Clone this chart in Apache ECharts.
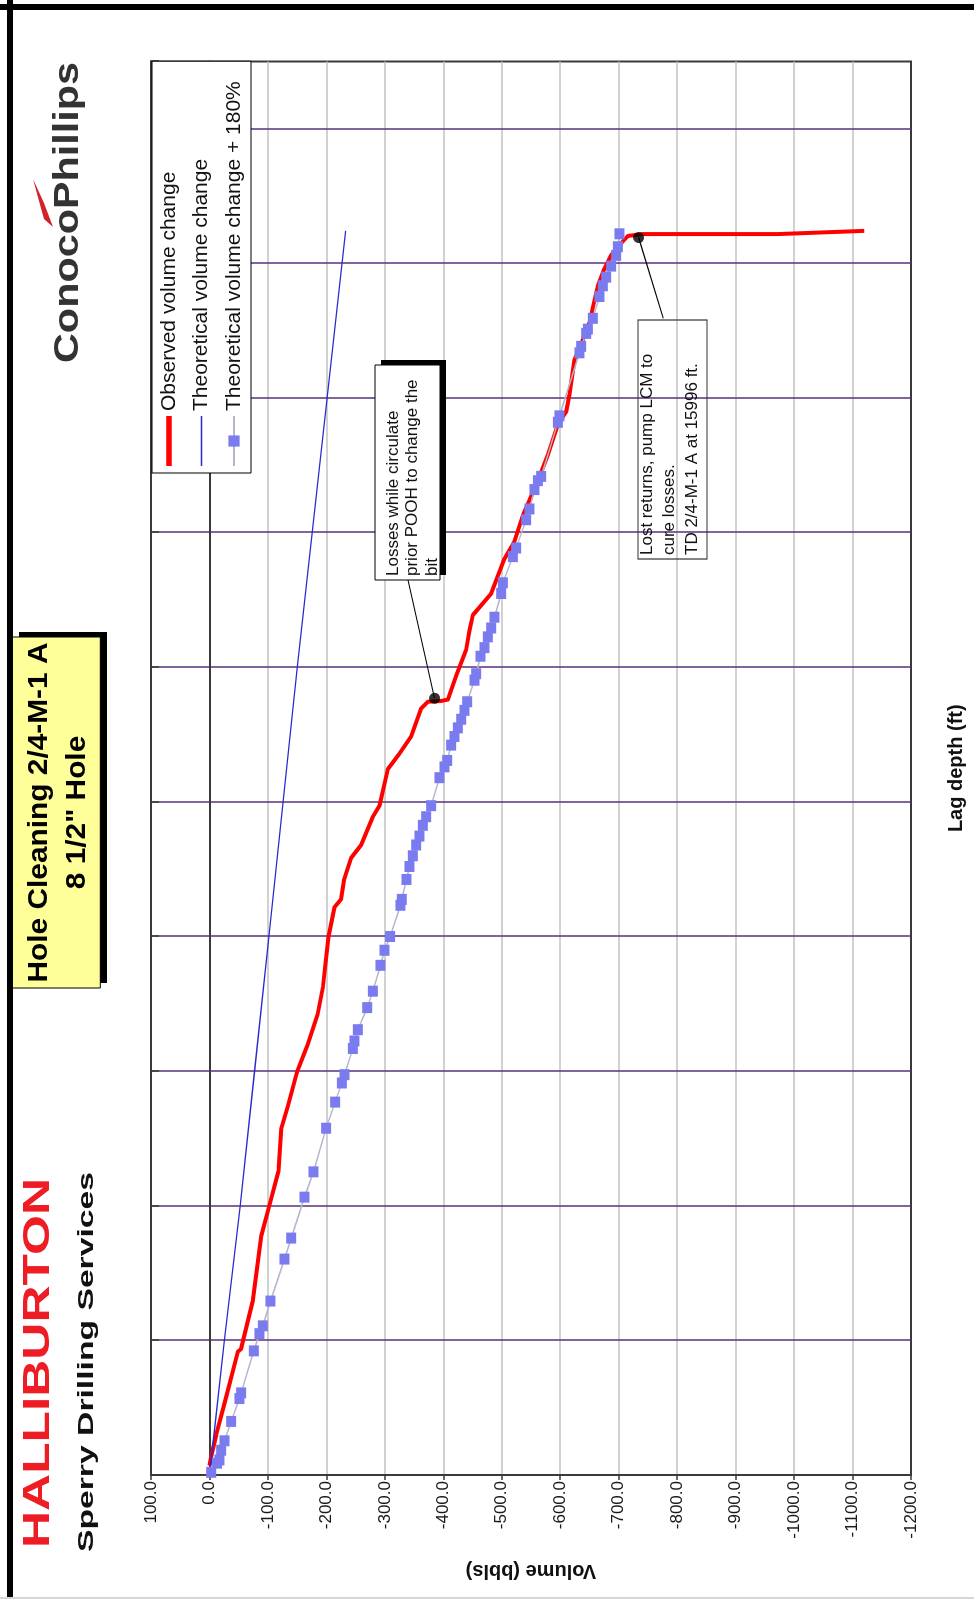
<!DOCTYPE html>
<html>
<head>
<meta charset="utf-8">
<title>Hole Cleaning 2/4-M-1 A</title>
<script src="https://cdn.jsdelivr.net/npm/echarts@6/dist/echarts.min.js"></script>
<style>
  html, body { margin: 0; padding: 0; background: #fff; width: 974px; height: 1599px; overflow: hidden; }
  /* the sheet is laid out in landscape and turned a quarter turn counter-clockwise */
  #sheet { position: absolute; left: 0; top: 0; width: 1599px; height: 974px;
           transform-origin: 0 0; transform: translate(0, 1599px) rotate(-90deg); }
</style>
</head>
<body>
<div id="sheet"></div>
<script>
// Lag depth (ft) and volume change (bbls)
const observedDepth = [11435, 11470, 11549, 11666, 11858, 11868, 12046, 12288, 12401, 12529, 12685, 12770, 12898, 12998,
  13111, 13211, 13325, 13399, 13509, 13538, 13609, 13692, 13740, 13845, 13886, 14022, 14079, 14143, 14247, 14272,
  14275, 14280, 14368, 14465, 14537, 14594, 14674, 14803, 14867, 14964, 15077, 15189, 15302, 15350, 15414, 15543,
  15600, 15680, 15737, 15817, 15881, 15930, 15962, 16002, 16009, 16009, 16021];
const observedVolume = [0, -3, -11.5, -25.7, -48.6, -54, -74, -88.5, -102.6, -118, -122.6, -134, -150, -168,
  -185, -194, -199.6, -203.6, -213.8, -225, -230, -242.4, -259.5, -279.5, -290.8, -305.2, -325, -345, -362.1, -373.6,
  -396.3, -407.8, -422, -439, -444.7, -450.6, -481.9, -504.6, -521.7, -536.1, -558.8, -578.8, -596, -610.2, -615.8, -624.4,
  -635.8, -650, -655.8, -664.4, -675.7, -687.1, -698.6, -715.7, -740, -972, -1120];

const theoreticalDepth = [11400, 11900, 12397, 12898, 13399, 14395, 16021];
const theoreticalVolume = [0, -25.6, -52.5, -77, -101.6, -150, -233];

const plus180Depth = [11410, 11444, 11456, 11492, 11527, 11599, 11684, 11705, 11861, 11925, 11954, 12046, 12202, 12280,
  12432, 12526, 12688, 12785, 12856, 12887, 12984, 13012, 13054, 13136, 13197, 13293, 13349, 13400, 13516, 13538,
  13612, 13660, 13700, 13740, 13773, 13813, 13845, 13886, 13990, 14030, 14054, 14111, 14143, 14175, 14207, 14240,
  14272, 14352, 14376, 14441, 14473, 14513, 14546, 14586, 14674, 14714, 14811, 14843, 14948, 14988, 15060, 15093,
  15109, 15310, 15334, 15568, 15592, 15640, 15656, 15696, 15777, 15817, 15849, 15890, 15930, 15962, 16010];
const plus180Volume = [-3, -13, -17.1, -20, -25.7, -37.1, -51.3, -54.2, -75.9, -85.5, -91.3, -104.3, -128.3, -139.8,
  -162.5, -177.9, -199.6, -215, -226.5, -231, -245.3, -248, -253.8, -269.8, -279.5, -292.5, -299.4, -309, -326.7, -329,
  -337, -342.1, -347.9, -353.6, -359.2, -365, -370.7, -379.2, -393.4, -402, -406.6, -413.4, -419.1, -424.9, -430.6, -436.2,
  -440.8, -453.3, -456.2, -463.6, -470.4, -476.2, -481.9, -487.5, -499, -501.9, -519, -524.6, -541.7, -547.4, -555.9, -561.8,
  -567.4, -596, -598.7, -632.9, -635.8, -644.4, -647.3, -655.8, -667.1, -672.9, -678.6, -687.1, -695.7, -698.6, -701.3];

// points the call-outs refer to
const noteDepth = [14285, 15996];
const noteVolume = [-385, -734];
const noteLines = [
  ['Losses while circulate', 'prior POOH to change the', 'bit'],
  ['Lost returns, pump LCM to', 'cure losses.', 'TD 2/4-M-1 A at 15996 ft.']
];

const seriesNames = ['Observed volume change', 'Theoretical volume change', 'Theoretical volume change + 180%'];
const titleLines = ['Hole Cleaning 2/4-M-1 A', '8 1/2" Hole'];

const zip = (a, b) => a.map((v, i) => [v, b[i]]);
const FONT = "'Liberation Sans', Arial, sans-serif";

const measureCanvas = document.createElement('canvas').getContext('2d');
function widthOf(text, font) { measureCanvas.font = font; return measureCanvas.measureText(text).width; }

const chart = echarts.init(document.getElementById('sheet'), null, { renderer: 'canvas', width: 1599, height: 974 });

const option = {
  backgroundColor: '#ffffff',
  animation: false,
  grid: { left: 124, right: 61.5, top: 151, bottom: 63, show: true, borderColor: '#3a3a3a', borderWidth: 2, backgroundColor: '#ffffff' },
  xAxis: [
    { type: 'value', min: 11400, max: 16650, position: 'bottom',
      axisLine: { show: true, lineStyle: { color: '#3a3a3a', width: 2 } },
      axisTick: { show: false }, axisLabel: { show: false }, splitLine: { show: false },
      name: 'Lag depth (ft)', nameLocation: 'middle', nameGap: 35,
      nameTextStyle: { fontFamily: FONT, fontSize: 20, fontWeight: 'bold', color: '#111' } },
    { type: 'value', min: 0, max: 10.5, interval: 1, position: 'top',
      axisLine: { show: true, lineStyle: { color: '#3a3a3a', width: 2 } },
      axisTick: { show: true, inside: true, length: 8, lineStyle: { color: '#3a3a3a', width: 1.5 } },
      axisLabel: { show: false },
      splitLine: { show: true, showMinLine: false, showMaxLine: false, lineStyle: { color: '#56307a', width: 1.5 } } }
  ],
  yAxis: {
    type: 'value', min: -1200, max: 100, interval: 100,
    axisLine: { show: true, lineStyle: { color: '#3a3a3a', width: 2 } },
    axisTick: { show: true, length: 5, lineStyle: { color: '#3a3a3a', width: 1.5 } },
    axisLabel: { formatter: v => v.toFixed(1), fontFamily: FONT, fontSize: 17, color: '#1a1a1a', margin: 6 },
    splitLine: { show: true, showMinLine: false, showMaxLine: false, lineStyle: { color: '#c2c2c2', width: 1.5 } },
    name: 'Volume (bbls)', nameLocation: 'middle', nameGap: 86,
    nameTextStyle: { fontFamily: FONT, fontSize: 20, fontWeight: 'bold', color: '#111' }
  },
  legend: {
    orient: 'vertical', left: 1126, top: 152,
    padding: [5, 20, 5, 6], itemGap: 8.5, itemWidth: 50, itemHeight: 14,
    backgroundColor: '#ffffff', borderColor: '#000', borderWidth: 1, borderRadius: 0,
    textStyle: { fontFamily: FONT, fontSize: 21, color: '#111', lineHeight: 24 },
    data: [
      { name: seriesNames[0], icon: 'path://M0 0H50V5.5H0Z' },
      { name: seriesNames[1], icon: 'path://M0 0H50V1.4H0Z' },
      seriesNames[2]
    ]
  },
  series: [
    { name: seriesNames[0], type: 'line', data: zip(observedDepth, observedVolume),
      symbol: 'none', showSymbol: false, color: '#ff0000',
      lineStyle: { color: '#ff0000', width: 4, join: 'round' }, z: 3 },
    { name: seriesNames[1], type: 'line', data: zip(theoreticalDepth, theoreticalVolume),
      symbol: 'none', showSymbol: false, color: '#2a2ad0',
      lineStyle: { color: '#2a2ad0', width: 1.4 }, z: 3 },
    { name: seriesNames[2], type: 'line', data: zip(plus180Depth, plus180Volume),
      symbol: 'rect', symbolSize: [11, 10], showSymbol: true, color: '#7b7bf0',
      itemStyle: { color: '#7b7bf0' },
      lineStyle: { color: '#b5b5c8', width: 1.5 }, z: 4 },
    { name: 'notes', type: 'scatter', data: zip(noteDepth, noteVolume), symbolSize: 11,
      itemStyle: { color: '#000' }, z: 6, silent: true }
  ]
};
chart.setOption(option);

// call-out boxes, title box, logos and frame
const dot1 = chart.convertToPixel({ xAxisIndex: 0, yAxisIndex: 0 }, [noteDepth[0], noteVolume[0]]);
const dot2 = chart.convertToPixel({ xAxisIndex: 0, yAxisIndex: 0 }, [noteDepth[1], noteVolume[1]]);

function label(text, x, y, font, fill, align, scaleX, z) {
  return { type: 'text', x, y, scaleX: scaleX || 1, z: z || 21,
    style: { text, font, fill, align: align || 'left', verticalAlign: 'middle' } };
}
function fitScale(text, font, targetWidth) { return targetWidth / widthOf(text, font); }

const g = [];
// sheet frame
g.push({ type: 'line', z: 30, shape: { x1: 0, y1: 10, x2: 1599, y2: 10 }, style: { stroke: '#000', lineWidth: 6 } });
g.push({ type: 'line', z: 30, shape: { x1: 1592, y1: 0, x2: 1592, y2: 974 }, style: { stroke: '#000', lineWidth: 6 } });
g.push({ type: 'line', z: 30, shape: { x1: 1, y1: 0, x2: 1, y2: 974 }, style: { stroke: '#d6d6d6', lineWidth: 2 } });

// Halliburton logo
const halFont = 'bold 37px ' + FONT;
g.push(label('HALLIBURTON', 51, 39, halFont, '#ee1c25', 'left', fitScale('HALLIBURTON', halFont, 370)));
const sdsFont = 'bold 22px ' + FONT;
g.push(label('Sperry Drilling Services', 47, 87, sdsFont, '#111', 'left', fitScale('Sperry Drilling Services', sdsFont, 380)));

// ConocoPhillips logo
const copFont = 'bold 35px ' + FONT;
g.push(label('ConocoPhillips', 1236, 68, copFont, '#333', 'left', fitScale('ConocoPhillips', copFont, 301)));
g.push({ type: 'polygon', z: 21, shape: { points: [[1420, 33], [1396, 44], [1372, 53], [1380, 44], [1398, 39]] },
  style: { fill: '#d2232a' } });

// title box
g.push({ type: 'rect', z: 19, shape: { x: 616, y: 19, width: 351, height: 88 }, style: { fill: '#000' } });
g.push({ type: 'rect', z: 20, shape: { x: 611, y: 12.3, width: 351, height: 88 },
  style: { fill: '#ffff99', stroke: '#000', lineWidth: 1 } });
const titleFont = 'bold 28px ' + FONT;
const titleScale = fitScale(titleLines[0], titleFont, 340);
g.push(label(titleLines[0], 786.5, 39.5, titleFont, '#000', 'center', titleScale));
g.push(label(titleLines[1], 786.5, 77, titleFont, '#000', 'center', titleScale));

// call-out 1 (with shadow)
g.push({ type: 'line', z: 18, shape: { x1: 1019, y1: 408, x2: dot1[0], y2: dot1[1] }, style: { stroke: '#000', lineWidth: 1.2 } });
g.push({ type: 'rect', z: 19, shape: { x: 1024, y: 381, width: 215, height: 65 }, style: { fill: '#000' } });
g.push({ type: 'rect', z: 20, shape: { x: 1019, y: 375, width: 215, height: 65 },
  style: { fill: '#fff', stroke: '#000', lineWidth: 1 } });
noteLines[0].forEach((t, i) => g.push(label(t, 1023, 393 + i * 19.5, '17px ' + FONT, '#111')));

// call-out 2
g.push({ type: 'line', z: 18, shape: { x1: 1280.7, y1: 663.3, x2: dot2[0], y2: dot2[1] }, style: { stroke: '#000', lineWidth: 1.2 } });
g.push({ type: 'rect', z: 20, shape: { x: 1040, y: 638, width: 239, height: 69 },
  style: { fill: 'none', stroke: '#333', lineWidth: 1.2 } });
noteLines[1].forEach((t, i) => g.push(label(t, 1044, 647.5 + i * 22.3, '17px ' + FONT, '#111')));

chart.setOption({ graphic: g });
</script>
</body>
</html>
